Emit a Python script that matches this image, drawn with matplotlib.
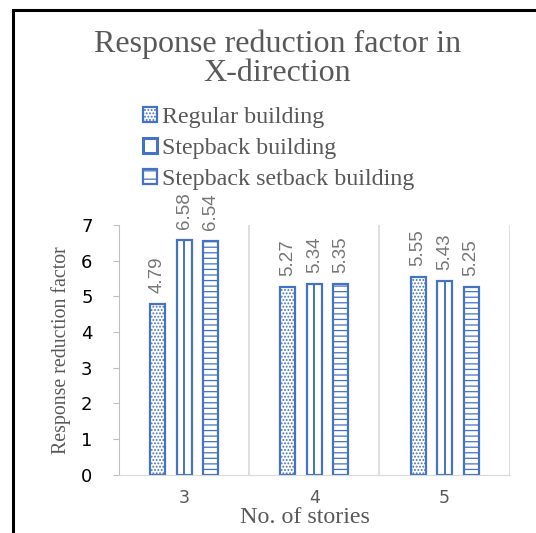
import numpy as np
import matplotlib.pyplot as plt
from matplotlib.lines import Line2D
from matplotlib.patches import Patch

# response reduction factor per building type
stories = ['3', '4', '5']
regular = [4.79, 5.27, 5.55]
stepback = [6.58, 5.34, 5.43]
setback = [6.54, 5.35, 5.25]
series_names = ['Regular building', 'Stepback building', 'Stepback setback building']

blue = '#4472C4'
grey = '#595959'
plt.rcParams['hatch.color'] = blue
plt.rcParams['hatch.linewidth'] = 0.9

fig = plt.figure(figsize=(5.36, 5.33), dpi=100)
ax = fig.add_axes([0.222, 0.109, 0.729, 0.469])

x = np.arange(len(stories))
w = 0.115
off = 0.204

b1 = ax.bar(x - off, regular, w, facecolor='white', edgecolor=blue, linewidth=1.6, hatch='.....')
b2 = ax.bar(x, stepback, w, facecolor='white', edgecolor=blue, linewidth=1.6)
# stepback bars have a single line down the middle
ax.vlines(x, 0, stepback, color=blue, linewidth=1.4)
b3 = ax.bar(x + off, setback, w, facecolor='white', edgecolor=blue, linewidth=1.6, hatch='---')

# value labels above each bar
for bars, vals in [(b1, regular), (b2, stepback), (b3, setback)]:
    for rect, v in zip(bars, vals):
        ax.annotate(f'{v:.2f}', (rect.get_x() + rect.get_width() / 2, v),
                    xytext=(0, 8), textcoords='offset points',
                    rotation=90, ha='center', va='bottom',
                    fontsize=13.5, color='#767676', family='Liberation Sans')

ax.set_xlim(-0.5, 2.5)
ax.set_ylim(0, 7)
ax.set_yticks(range(8))
ax.set_xticks(x)
ax.set_xticklabels(stories)
for sep in [0.5, 1.5, 2.5]:
    ax.axvline(sep, color='#d9d9d9', linewidth=1.2)

for s in ['top', 'right']:
    ax.spines[s].set_visible(False)
ax.spines['left'].set_color('#bfbfbf')
ax.spines['bottom'].set_color('#d9d9d9')
ax.tick_params(axis='y', colors='#bfbfbf', labelcolor='black', length=4, labelsize=13, pad=15)
ax.tick_params(axis='x', length=0, labelcolor=grey, labelsize=12.5, pad=10)

serif = 'Liberation Serif'
ax.set_xlabel('No. of stories', family=serif, fontsize=17.3, color=grey)
ax.xaxis.set_label_coords(0.476, -0.128)
ax.set_ylabel('Response reduction factor', family=serif, fontsize=14.3, color=grey)
ax.yaxis.set_label_coords(-0.123, 0.5)

fig.text(0.517, 0.889, 'Response reduction factor in\nX-direction', ha='center', va='center',
         family=serif, fontsize=23, color=grey, linespacing=1.0)

handles = [Patch(facecolor='white', edgecolor=blue, hatch='.....', linewidth=1.6),
           Patch(facecolor='white', edgecolor=blue, linewidth=2.2),
           Patch(facecolor='white', edgecolor=blue, hatch='--', linewidth=1.6)]
fig.legend(handles, series_names, loc='upper left', bbox_to_anchor=(0.267, 0.799),
           frameon=False, prop={'family': serif, 'size': 17.3}, labelcolor=grey,
           borderpad=0, borderaxespad=0,
           handlelength=0.58, handleheight=0.58, handletextpad=0.21, labelspacing=0.42)

# outer frame lines on the left and top
fig.add_artist(Line2D([0.025, 0.025], [0, 0.981], color='black', linewidth=2.2))
fig.add_artist(Line2D([0.025, 1.0], [0.981, 0.981], color='black', linewidth=2.2))

fig.savefig('out.png', dpi=100)
